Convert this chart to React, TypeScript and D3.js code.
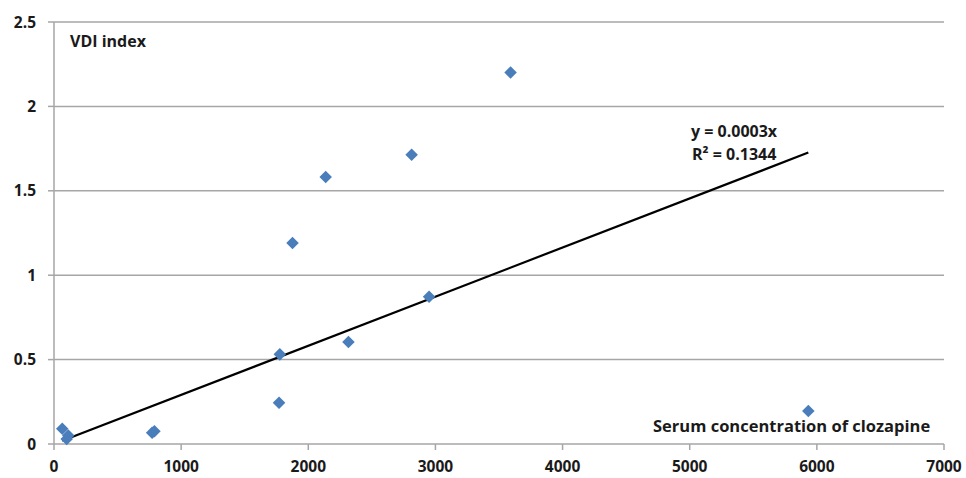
import React, { useRef, useEffect } from "react";
import * as d3 from "d3";

// serum clozapine concentration vs VDI index
const concentration = [65, 112, 100, 772, 790, 1770, 1776, 1876, 2137, 2316, 2950, 2813, 3591, 5933];
const vdiIndex = [0.09, 0.05, 0.03, 0.067, 0.075, 0.244, 0.531, 1.191, 1.582, 0.604, 0.872, 1.714, 2.201, 0.195];

const xTicks = [0, 1000, 2000, 3000, 4000, 5000, 6000, 7000];
const yTicks = [0, 0.5, 1, 1.5, 2, 2.5];

// linear trend through origin, as printed on the chart
const trendSlope = 0.000291;
const trendLabel = "y = 0.0003x";
const r2Label = "R² = 0.1344";

const App = () => {
  const ref = useRef<SVGSVGElement>(null);
  const width = 966;
  const height = 478;
  const font = "'Open Sans', sans-serif";

  useEffect(() => {
    document.body.style.margin = "0";
    const svg = d3.select(ref.current);
    svg.selectAll("*").remove();

    const x = d3.scaleLinear().domain([0, 7000]).range([54, 944]);
    const y = d3.scaleLinear().domain([0, 2.5]).range([444, 22]);

    // gridlines
    svg
      .append("g")
      .selectAll("line")
      .data(yTicks)
      .enter()
      .append("line")
      .attr("x1", x(0))
      .attr("x2", x(7000))
      .attr("y1", (d) => y(d))
      .attr("y2", (d) => y(d))
      .attr("stroke", "#a6a6a6")
      .attr("stroke-width", 1.5);

    // y axis line + ticks
    svg
      .append("line")
      .attr("x1", x(0))
      .attr("x2", x(0))
      .attr("y1", y(0))
      .attr("y2", y(2.5))
      .attr("stroke", "#a6a6a6")
      .attr("stroke-width", 1.5);
    svg
      .append("g")
      .selectAll("line")
      .data(yTicks)
      .enter()
      .append("line")
      .attr("x1", x(0) - 6)
      .attr("x2", x(0))
      .attr("y1", (d) => y(d))
      .attr("y2", (d) => y(d))
      .attr("stroke", "#a6a6a6")
      .attr("stroke-width", 1.5);

    // x ticks
    svg
      .append("g")
      .selectAll("line")
      .data(xTicks)
      .enter()
      .append("line")
      .attr("x1", (d) => x(d))
      .attr("x2", (d) => x(d))
      .attr("y1", y(0))
      .attr("y2", y(0) + 6)
      .attr("stroke", "#a6a6a6")
      .attr("stroke-width", 1.5);

    // tick labels
    svg
      .append("g")
      .selectAll("text")
      .data(yTicks)
      .enter()
      .append("text")
      .attr("x", 36)
      .attr("y", (d) => y(d) + 5.5)
      .attr("text-anchor", "end")
      .attr("font-family", font)
      .attr("font-weight", "bold")
      .attr("font-size", "15.5px")
      .attr("fill", "#1a1a1a")
      .text((d) => String(d));

    svg
      .append("g")
      .selectAll("text")
      .data(xTicks)
      .enter()
      .append("text")
      .attr("x", (d) => x(d))
      .attr("y", 472)
      .attr("text-anchor", "middle")
      .attr("font-family", font)
      .attr("font-weight", "bold")
      .attr("font-size", "15.5px")
      .attr("fill", "#1a1a1a")
      .text((d) => String(d));

    // trend line
    const [xMin, xMax] = d3.extent(concentration) as [number, number];
    svg
      .append("line")
      .attr("x1", x(xMin))
      .attr("y1", y(xMin * trendSlope))
      .attr("x2", x(xMax))
      .attr("y2", y(xMax * trendSlope))
      .attr("stroke", "#000")
      .attr("stroke-width", 2.2);

    // points
    const pts = concentration.map((c, i) => ({ c, v: vdiIndex[i] }));
    svg
      .append("g")
      .selectAll("path")
      .data(pts)
      .enter()
      .append("path")
      .attr("d", d3.symbol().type(d3.symbolDiamond2).size(100)())
      .attr("transform", (d) => `translate(${x(d.c)},${y(d.v)})`)
      .attr("fill", "#4a7ebb");

    // labels
    const label = (tx: number, ty: number, s: string, size = 15.5) =>
      svg
        .append("text")
        .attr("x", tx)
        .attr("y", ty)
        .attr("font-family", font)
        .attr("font-weight", "bold")
        .attr("font-size", size + "px")
        .attr("fill", "#1a1a1a")
        .text(s);

    label(70, 47, "VDI index", 16);
    label(691, 137, trendLabel, 16);
    label(692, 160, r2Label, 16);
    label(653, 432, "Serum concentration of clozapine", 16.5);
  }, []);

  return <svg ref={ref} width={width} height={height} style={{ display: "block", background: "#fff" }}></svg>;
};

export default App;
